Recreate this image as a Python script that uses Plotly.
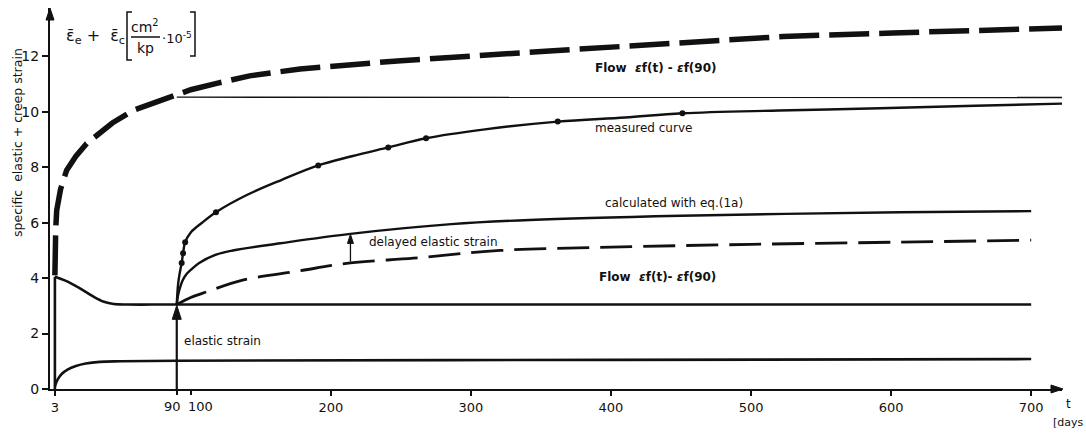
import plotly.graph_objects as go

# ---------------- data: time t [days], specific strain [cm²/kp · 10^-5] ----------------
# total strain under sustained load (thick dashed)
t_total = [3, 3, 3.6, 4.3, 7, 11.4, 18, 25.7, 35, 44, 58.6, 75, 90, 100, 120, 142, 178, 250, 356, 450, 523, 601, 706, 722]
e_total = [4.1, 5.0, 5.8, 6.45, 7.2, 7.9, 8.4, 8.86, 9.25, 9.6, 10.05, 10.35, 10.6, 10.8, 11.05, 11.3, 11.55, 11.85, 12.2, 12.5, 12.72, 12.85, 13.0, 13.03]

# flow εf(t) - εf(90), upper reference line
t_flow_top = [90, 722]
e_flow_top = [10.53, 10.52]

# measured curve after reloading at t = 90
t_meas = [90, 90.5, 91, 92, 93.5, 94.5, 96, 100, 108, 118, 140, 165, 191, 215, 241, 268, 310, 362, 410, 451, 520, 592, 660, 722]
e_meas = [3.05, 3.5, 3.8, 4.15, 4.55, 4.9, 5.3, 5.65, 6.0, 6.38, 7.0, 7.55, 8.07, 8.4, 8.72, 9.05, 9.37, 9.65, 9.8, 9.95, 10.05, 10.13, 10.22, 10.3]

# measured points
t_pts = [93.5, 94.5, 96, 118, 191, 241, 268, 362, 451]
e_pts = [4.55, 4.9, 5.3, 6.38, 8.07, 8.72, 9.05, 9.65, 9.95]

# calculated with eq.(1a)
t_calc = [90, 91, 92, 94, 97, 100, 106, 118, 130, 164, 214, 286, 342, 450, 606, 700]
e_calc = [3.05, 3.4, 3.6, 3.9, 4.15, 4.3, 4.55, 4.85, 5.0, 5.26, 5.6, 5.95, 6.1, 6.25, 6.38, 6.42]

# flow εf(t) - εf(90), lower curve (dashed)
t_flow_low = [90, 100, 111, 137, 176, 214, 259, 321, 400, 500, 606, 700]
e_flow_low = [3.05, 3.3, 3.5, 3.93, 4.25, 4.55, 4.72, 5.0, 5.12, 5.22, 5.3, 5.37]

# elastic strain level (load step at t = 3, decaying to the elastic value)
t_jump = [3, 3]
e_jump = [0, 4.05]
t_elastic = [3, 10, 20, 30, 38, 45, 55, 90, 700]
e_elastic = [4.05, 3.92, 3.66, 3.35, 3.15, 3.07, 3.05, 3.05, 3.05]

# delayed elastic part
t_delay = [3, 5, 8, 12, 18, 25, 35, 50, 90, 400, 700]
e_delay = [0.1, 0.35, 0.55, 0.7, 0.83, 0.92, 0.98, 1.0, 1.02, 1.05, 1.08]

# arrows: elastic strain at reloading, delayed elastic strain gap
t_elastic_arrow = 90
e_elastic_arrow = [0, 3.02]
t_delay_arrow = 214
e_delay_arrow = [4.6, 5.58]

# x ticks; the close pair 90 / 100 gets its labels set apart by hand
x_ticks = [3, 200, 300, 400, 500, 600, 700]
x_ticks_pair = [90, 100]
y_ticks = [0, 2, 4, 6, 8, 10, 12]

X_RANGE = [-0.5, 722]
Y_RANGE = [0, 13.75]

INK = "#111111"
FONT = "DejaVu Sans"

# plot area in pixels: left 50, right 1062, top 8, bottom 389
L, R, T, B = 50, 1062, 8, 389


def PX(p):
    return (p - L) / (R - L)


def PY(p):
    return (B - p) / (B - T)


def x2px(x):
    return L + (x - X_RANGE[0]) / (X_RANGE[1] - X_RANGE[0]) * (R - L)


def y2px(y):
    return B - (y - Y_RANGE[0]) / (Y_RANGE[1] - Y_RANGE[0]) * (B - T)


fig = go.Figure()


def curve(x, y, width, dash="solid", shape="linear"):
    fig.add_trace(go.Scatter(x=x, y=y, mode="lines",
                             line=dict(color=INK, width=width, dash=dash, shape=shape),
                             hoverinfo="skip"))


curve(t_total, e_total, 5.5, dash="40px,10px")
curve(t_flow_top, e_flow_top, 1.3)
curve(t_meas, e_meas, 2.4, shape="spline")
curve(t_calc, e_calc, 2.4, shape="spline")
curve(t_flow_low, e_flow_low, 2.8, dash="32px,11px", shape="spline")
curve(t_jump, e_jump, 2.6)
curve(t_elastic, e_elastic, 2.6, shape="spline")
curve(t_delay, e_delay, 2.6, shape="spline")

fig.add_trace(go.Scatter(x=t_pts, y=e_pts, mode="markers",
                         marker=dict(color=INK, size=6), hoverinfo="skip"))

shapes = []


def head(px, py, direction, length, half):
    """Filled arrowhead with its tip at pixel (px, py)."""
    if direction == "up":
        pts = [(px, py), (px - half, py + length), (px + half, py + length)]
    else:  # right
        pts = [(px, py), (px - length, py - half), (px - length, py + half)]
    path = "M " + " L ".join(f"{PX(a)} {PY(b)}" for a, b in pts) + " Z"
    shapes.append(dict(type="path", xref="paper", yref="paper", path=path,
                       fillcolor=INK, line=dict(color=INK, width=1)))


def vline_arrow(x, y0, y1, width, length, half):
    px = x2px(x)
    shapes.append(dict(type="line", xref="paper", yref="paper",
                       x0=PX(px), x1=PX(px), y0=PY(y2px(y0)), y1=PY(y2px(y1) + length - 2),
                       line=dict(color=INK, width=width)))
    head(px, y2px(y1), "up", length, half)


# axis arrowheads
head(R + 1, B, "right", 12, 4)
head(L, T, "up", 12, 4)
# elastic strain and delayed elastic strain arrows
vline_arrow(t_elastic_arrow, e_elastic_arrow[0], e_elastic_arrow[1], 2.2, 14, 4.5)
vline_arrow(t_delay_arrow, e_delay_arrow[0], e_delay_arrow[1], 1.3, 9, 3)

ann = []


def label(x, y, text, size=12, anchor="left"):
    ann.append(dict(x=x, y=y, xref="x", yref="y", text=text, showarrow=False,
                    xanchor=anchor, yanchor="middle", font=dict(size=size, family=FONT, color=INK)))


label(387, 11.57, "<b>Flow  <i>ε</i>f(t) - <i>ε</i>f(90)</b>", 12)
label(387, 9.42, "measured curve", 12)
label(394, 6.71, "calculated with eq.(1a)", 12)
label(390, 4.04, "<b>Flow  <i>ε</i>f(t)- <i>ε</i>f(90)</b>", 12)
label(94, 1.73, "elastic strain", 12)
label(226, 5.3, "delayed elastic strain", 12)

# tick labels of the 90 / 100 pair, pushed apart so they sit side by side
for tv, anchor, shift in zip(x_ticks_pair, ["right", "left"], [6.5, -5]):
    ann.append(dict(x=tv, y=0, xref="x", yref="y", text=str(tv), showarrow=False,
                    xanchor=anchor, yanchor="top", xshift=shift, yshift=-8,
                    font=dict(size=13, family=FONT, color=INK)))


def paper_text(px, py, text, size, anchor="left", angle=0):
    ann.append(dict(x=PX(px), y=PY(py), xref="paper", yref="paper", text=text, textangle=angle,
                    showarrow=False, xanchor=anchor, yanchor="middle",
                    font=dict(size=size, family=FONT, color=INK)))


# axis captions
paper_text(17, 143, "specific  elastic + creep strain", 12.5, anchor="center", angle=-90)
paper_text(1064, 404, "t", 12)
paper_text(1086, 422, "[days", 11, anchor="right")

# unit label: ε̄e + ε̄c [cm²/kp · 10^-5]
paper_text(64, 36, "ε\u0304<sub>e</sub> +  ε\u0304<sub>c</sub>", 16)
paper_text(145, 26, "cm<sup>2</sup>", 14, anchor="center")
paper_text(145, 48, "kp", 14, anchor="center")
paper_text(160, 38, "·10<sup>-5</sup>", 13)

shapes += [
    # fraction bar
    dict(type="line", xref="paper", yref="paper", x0=PX(131), x1=PX(160), y0=PY(37), y1=PY(37),
         line=dict(color=INK, width=1.5)),
    # brackets
    dict(type="path", xref="paper", yref="paper",
         path=f"M {PX(132)} {PY(12)} L {PX(127)} {PY(12)} L {PX(127)} {PY(60)} L {PX(132)} {PY(60)}",
         line=dict(color=INK, width=1.5)),
    dict(type="path", xref="paper", yref="paper",
         path=f"M {PX(190)} {PY(12)} L {PX(195)} {PY(12)} L {PX(195)} {PY(56)} L {PX(190)} {PY(56)}",
         line=dict(color=INK, width=1.5)),
]

tick_style = dict(ticks="outside", ticklen=5, tickwidth=1.5, tickcolor=INK)

fig.update_layout(
    width=1086, height=435,
    margin=dict(l=L, r=1086 - R, t=T, b=435 - B),
    plot_bgcolor="white", paper_bgcolor="white",
    showlegend=False,
    font=dict(family=FONT, color=INK),
    annotations=ann,
    shapes=shapes,
    xaxis=dict(range=X_RANGE, tickvals=x_ticks, tickangle=0, **tick_style,
               showline=True, linewidth=2, linecolor=INK, showgrid=False, zeroline=False,
               tickfont=dict(size=13, family=FONT, color=INK)),
    # second x axis carrying only the tick marks of the 90 / 100 pair
    xaxis2=dict(range=X_RANGE, overlaying="x", side="bottom", anchor="y",
                tickvals=x_ticks_pair, showticklabels=False, **tick_style,
                showline=False, showgrid=False, zeroline=False),
    yaxis=dict(range=Y_RANGE, tickvals=y_ticks,
               ticks="outside", ticklen=6, tickwidth=1.5, tickcolor=INK,
               showline=True, linewidth=2, linecolor=INK, showgrid=False, zeroline=False,
               tickfont=dict(size=14, family=FONT, color=INK)),
)

# an invisible trace binds the second x axis so that its ticks are drawn
fig.add_trace(go.Scatter(x=x_ticks_pair, y=[None, None], xaxis="x2", yaxis="y",
                         mode="lines", hoverinfo="skip", showlegend=False))

fig.write_html("out.html")
